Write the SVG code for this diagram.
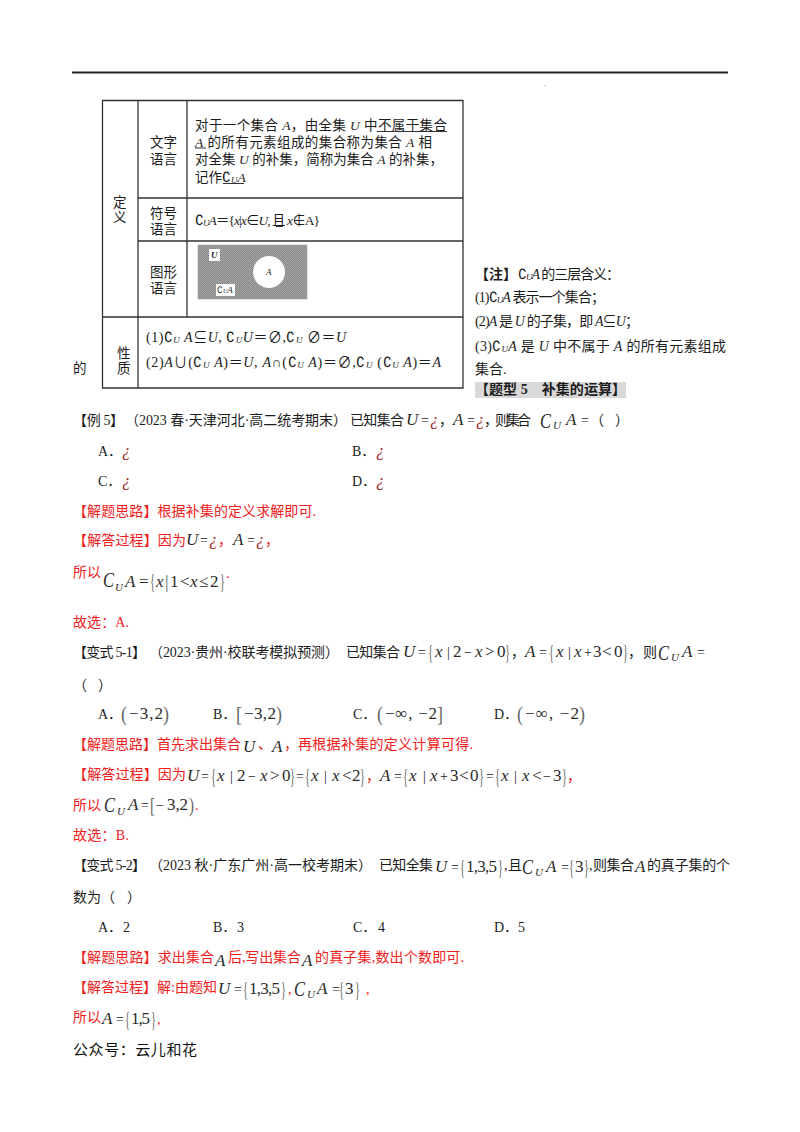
<svg xmlns="http://www.w3.org/2000/svg" width="800" height="1132" viewBox="0 0 800 1132">
<style>
text{font-family:"Liberation Serif","Noto Sans CJK SC",serif;font-size:14px;fill:#1c1c1c}
.r{fill:#f02020}
.i{font-style:italic}
.t{font-size:13.5px}
.m{font-size:17px;font-family:"Liberation Serif","DejaVu Serif",serif;fill:#2a2a2a}
.mi{font-size:17px;font-style:italic;fill:#2a2a2a}
.s{font-size:11px;font-style:italic;fill:#2a2a2a}
.c{font-size:22px;font-style:italic;fill:#2a2a2a}
.br{font-size:22px;fill:#666;font-weight:normal}
.q{fill:#a03030;font-size:17px;font-family:"Liberation Serif",serif;font-style:italic}
.g{stroke:#333;stroke-width:1.3;fill:none}
.u{stroke:#333;stroke-width:1;fill:none}
</style>
<defs>
<pattern id="h" width="2" height="2" patternUnits="userSpaceOnUse"><rect width="2" height="2" fill="#a8a8a8"/><path d="M0 2L2 0" stroke="#7c7c7c" stroke-width=".8"/></pattern>
</defs>
<rect width="800" height="1132" fill="#fff"/>
<path d="M72 72.500H728" stroke="#222" stroke-width="2"/>
<circle cx="545" cy="85.500" r=".5" fill="#888"/>

<g id="table">
<path class="g" d="M102.500 100.500H463V388H102.500ZM138 100.500V388M187 100.500V317M138 198H463M138 241H463M102.500 317H463"/>
<text class="t" x="113" y="207">定</text><text class="t" x="113" y="222">义</text>
<text class="t" x="150" y="147">文字</text><text class="t" x="150" y="164">语言</text>
<text class="t" x="150" y="218">符号</text><text class="t" x="150" y="234">语言</text>
<text class="t" x="150" y="277">图形</text><text class="t" x="150" y="293">语言</text>
<text class="t" x="117" y="358">性</text><text class="t" x="117" y="373">质</text>
<text class="t" x="73" y="373">的</text>

<text class="t" x="195" y="130" textLength="252">对于一个集合 <tspan class="i">A</tspan>，由全集 <tspan class="i">U</tspan> 中不属于集合</text>
<path class="u" d="M377 131.500H447M195 148H206"/>
<text class="t" x="195" y="147" textLength="237"><tspan class="i">A</tspan> 的所有元素组成的集合称为集合 <tspan class="i">A</tspan> 相</text>
<text class="t" x="195" y="164" textLength="248">对全集 <tspan class="i">U</tspan> 的补集，简称为集合 <tspan class="i">A</tspan> 的补集，</text>
<text class="t" x="195" y="182">记作</text><text class="t" x="222" y="182">∁<tspan class="i" font-size="9" dy="1">U</tspan><tspan class="i" dy="-1">A</tspan></text>
<path class="u" d="M223 183.500H244"/>
<text class="t" x="195" y="225" textLength="125">∁<tspan class="i" font-size="9" dy="1">U</tspan><tspan class="i" dy="-1">A</tspan>＝{<tspan class="i">x</tspan>|<tspan class="i">x</tspan>∈<tspan class="i">U</tspan>, 且 <tspan class="i">x</tspan>∉A}</text>
<path class="u" d="M276 226.500H283"/>

<rect x="198" y="245" width="109" height="54" fill="url(#h)" stroke="#999" stroke-width=".5"/>
<rect x="209" y="249" width="11" height="12" fill="#fff"/>
<text class="i" x="211" y="258" style="font-size:9px;font-weight:bold">U</text>
<circle cx="269" cy="272" r="16" fill="#fff"/>
<text class="i" x="266" y="275" style="font-size:9px">A</text>
<rect x="216" y="284" width="19" height="12" fill="#fff"/>
<text x="217" y="293" style="font-size:9px">∁<tspan class="i" style="font-size:6px">U</tspan><tspan class="i">A</tspan></text>

<text x="146" y="342" textLength="200">(1)∁<tspan class="i" font-size="9" dy="1">U</tspan><tspan class="i" dy="-1"> A</tspan>⊆<tspan class="i">U</tspan>, ∁<tspan class="i" font-size="9" dy="1">U</tspan><tspan class="i" dy="-1">U</tspan>＝∅,∁<tspan class="i" font-size="9" dy="1">U</tspan><tspan dy="-1"> ∅</tspan>＝<tspan class="i">U</tspan></text>
<text x="146" y="367" textLength="295">(2)<tspan class="i">A</tspan>∪(∁<tspan class="i" font-size="9" dy="1">U</tspan><tspan class="i" dy="-1"> A</tspan>)＝<tspan class="i">U</tspan>, <tspan class="i">A</tspan>∩(∁<tspan class="i" font-size="9" dy="1">U</tspan><tspan class="i" dy="-1"> A</tspan>)＝∅,∁<tspan class="i" font-size="9" dy="1">U</tspan><tspan dy="-1"> (∁</tspan><tspan class="i" font-size="9" dy="1">U</tspan><tspan class="i" dy="-1"> A</tspan>)＝<tspan class="i">A</tspan></text>
</g>

<g id="note">
<text x="475" y="279" font-weight="bold">【注】</text>
<text x="518" y="279" textLength="102">∁<tspan class="i" font-size="9" dy="1">U</tspan><tspan class="i" dy="-1">A</tspan> 的三层含义：</text>
<text x="475" y="302" textLength="130">(1)∁<tspan class="i" font-size="9" dy="1">U</tspan><tspan class="i" dy="-1">A</tspan> 表示一个集合；</text>
<text x="475" y="326" textLength="164">(2)<tspan class="i">A</tspan> 是 <tspan class="i">U</tspan> 的子集，即 <tspan class="i">A</tspan>⊆<tspan class="i">U</tspan>；</text>
<text x="475" y="351" textLength="251">(3)∁<tspan class="i" font-size="9" dy="1">U</tspan><tspan class="i" dy="-1">A</tspan> 是 <tspan class="i">U</tspan> 中不属于 <tspan class="i">A</tspan> 的所有元素组成</text>
<text x="475" y="374">集合.</text>
<rect x="475" y="382" width="151" height="16" fill="#d9d9d9"/>
<text x="475" y="394" textLength="151" font-weight="bold">【题型 5　补集的运算】</text>
</g>

<g id="example5">
<text x="73" y="425" textLength="51">【例 5】</text>
<text x="125" y="425" textLength="222">（2023 春·天津河北·高二统考期末）</text>
<text x="350" y="425" textLength="54">已知集合</text>
<text class="mi" x="406" y="425">U</text><text x="421" y="425">=</text><text class="q" x="430" y="425">¿</text><text x="439" y="425">，</text>
<text class="mi" x="453" y="425">A</text><text x="467" y="425">=</text><text class="q" x="476" y="425">¿</text><text x="484" y="425" textLength="47">，则集合</text>
<text class="c" x="540" y="428" textLength="11" lengthAdjust="spacingAndGlyphs">C</text><text class="s" x="553" y="429">U</text><text class="mi" x="566" y="425">A</text><text x="581" y="425">=</text><text x="590" y="425">（</text><text x="615" y="425">）</text>
<text x="98" y="456">A．</text><text class="q" x="122" y="456">¿</text>
<text x="352" y="456">B．</text><text class="q" x="376" y="456">¿</text>
<text x="98" y="486">C．</text><text class="q" x="122" y="486">¿</text>
<text x="352" y="486">D．</text><text class="q" x="376" y="486">¿</text>
<text class="r" x="73" y="516" textLength="243">【解题思路】根据补集的定义求解即可.</text>
<text class="r" x="73" y="545" textLength="113">【解答过程】因为</text>
<text class="mi" x="186" y="545">U</text><text x="200" y="545">=</text><text class="q" x="209" y="545">¿</text><text class="r" x="218" y="545">，</text>
<text class="mi" x="233" y="545">A</text><text x="247" y="545">=</text><text class="q" x="256" y="545">¿</text><text class="r" x="265" y="545">，</text>
<text class="r" x="73" y="577">所以</text>
<text class="c" x="103" y="587" textLength="11" lengthAdjust="spacingAndGlyphs">C</text><text class="s" x="115" y="591">U</text><text class="mi" x="125" y="587">A</text><text class="m" x="139" y="587">=</text>
<text class="br" x="150" y="588" textLength="5" lengthAdjust="spacingAndGlyphs">{</text><text class="mi" x="156" y="587">x</text><text class="br" x="165" y="588" style="font-size:18px">|</text><text class="m" x="170" y="587">1</text><text class="m" x="180" y="587">&lt;</text><text class="mi" x="190" y="587">x</text><text class="m" x="199" y="587">≤</text><text class="m" x="210" y="587">2</text><text class="br" x="220" y="588" textLength="5" lengthAdjust="spacingAndGlyphs">}</text><text class="r" x="226" y="578">.</text>
<text class="r" x="73" y="627" textLength="56">故选：A.</text>
</g>

<g id="variant51">
<text x="73" y="657" textLength="73">【变式 5-1】</text>
<text x="149" y="657" textLength="190">（2023·贵州·校联考模拟预测）</text>
<text x="346" y="657" textLength="54">已知集合</text>
<text class="mi" x="403" y="657">U</text><text x="418" y="657">=</text>
<text class="br" x="428" y="659" textLength="5" lengthAdjust="spacingAndGlyphs">{</text><text class="mi" x="435" y="657">x</text><text x="447" y="657">|</text><text class="m" x="453" y="657">2</text><text x="464" y="657">−</text><text class="mi" x="475" y="657">x</text><text class="m" x="485" y="657">&gt;</text><text class="m" x="497" y="657">0</text><text class="br" x="505" y="659" textLength="5" lengthAdjust="spacingAndGlyphs">}</text><text x="511" y="657">，</text>
<text class="mi" x="525" y="657">A</text><text x="539" y="657">=</text>
<text class="br" x="549" y="659" textLength="5" lengthAdjust="spacingAndGlyphs">{</text><text class="mi" x="556" y="657">x</text><text x="568" y="657">|</text><text class="mi" x="574" y="657">x</text><text x="584" y="657">+</text><text class="m" x="593" y="657">3</text><text class="m" x="602" y="657">&lt;</text><text class="m" x="614" y="657">0</text><text class="br" x="623" y="659" textLength="5" lengthAdjust="spacingAndGlyphs">}</text><text x="628" y="657">，</text>
<text x="643" y="657">则</text><text class="c" x="658" y="660" textLength="11" lengthAdjust="spacingAndGlyphs">C</text><text class="s" x="671" y="661">U</text><text class="mi" x="682" y="657">A</text><text x="697" y="657">=</text>
<text x="73" y="690">（</text><text x="98" y="690">）</text>

<text x="98" y="719">A．</text><text class="br" x="121" y="721" textLength="6" lengthAdjust="spacingAndGlyphs">(</text><text class="m" x="129" y="719" textLength="34">−3,2</text><text class="br" x="163" y="721" textLength="6" lengthAdjust="spacingAndGlyphs">)</text>
<text x="213" y="719">B．</text><text class="br" x="236" y="721" textLength="6" lengthAdjust="spacingAndGlyphs">[</text><text class="m" x="244" y="719" textLength="32">−3,2</text><text class="br" x="276" y="721" textLength="6" lengthAdjust="spacingAndGlyphs">)</text>
<text x="353" y="719">C．</text><text class="br" x="377" y="721" textLength="6" lengthAdjust="spacingAndGlyphs">(</text><text class="m" x="385" y="719" textLength="52">−∞, −2</text><text class="br" x="437" y="721" textLength="6" lengthAdjust="spacingAndGlyphs">]</text>
<text x="494" y="719">D．</text><text class="br" x="517" y="721" textLength="6" lengthAdjust="spacingAndGlyphs">(</text><text class="m" x="525" y="719" textLength="54">−∞, −2</text><text class="br" x="579" y="721" textLength="6" lengthAdjust="spacingAndGlyphs">)</text>

<text class="r" x="73" y="749" textLength="168">【解题思路】首先求出集合</text>
<text class="mi" x="243" y="752">U</text><text class="r" x="258" y="749">、</text><text class="mi" x="272" y="752">A</text><text class="r" x="284" y="749">，</text>
<text class="r" x="298" y="749" textLength="175">再根据补集的定义计算可得.</text>

<text class="r" x="73" y="779" textLength="113">【解答过程】因为</text>
<text class="mi" x="187" y="781">U</text><text x="201" y="781">=</text>
<text class="br" x="211" y="783" textLength="5" lengthAdjust="spacingAndGlyphs">{</text><text class="mi" x="217" y="781">x</text><text x="230" y="781">|</text><text class="m" x="237" y="781">2</text><text x="248" y="781">−</text><text class="mi" x="260" y="781">x</text><text class="m" x="270" y="781">&gt;</text><text class="m" x="282" y="781">0</text><text class="br" x="290" y="783" textLength="5" lengthAdjust="spacingAndGlyphs">}</text><text x="296" y="781">=</text>
<text class="br" x="305" y="783" textLength="5" lengthAdjust="spacingAndGlyphs">{</text><text class="mi" x="311" y="781">x</text><text x="324" y="781">|</text><text class="mi" x="332" y="781">x</text><text class="m" x="342" y="781">&lt;</text><text class="m" x="352" y="781">2</text><text class="br" x="360" y="783" textLength="5" lengthAdjust="spacingAndGlyphs">}</text><text class="r" x="366" y="781">，</text>
<text class="mi" x="380" y="781">A</text><text x="394" y="781">=</text>
<text class="br" x="403" y="783" textLength="5" lengthAdjust="spacingAndGlyphs">{</text><text class="mi" x="409" y="781">x</text><text x="423" y="781">|</text><text class="mi" x="430" y="781">x</text><text x="440" y="781">+</text><text class="m" x="450" y="781">3</text><text class="m" x="459" y="781">&lt;</text><text class="m" x="470" y="781">0</text><text class="br" x="479" y="783" textLength="5" lengthAdjust="spacingAndGlyphs">}</text><text x="486" y="781">=</text>
<text class="br" x="495" y="783" textLength="5" lengthAdjust="spacingAndGlyphs">{</text><text class="mi" x="501" y="781">x</text><text x="514" y="781">|</text><text class="mi" x="522" y="781">x</text><text class="m" x="532" y="781">&lt;</text><text x="543" y="781">−</text><text class="m" x="553" y="781">3</text><text class="br" x="562" y="783" textLength="5" lengthAdjust="spacingAndGlyphs">}</text><text class="r" x="567" y="781">，</text>

<text class="r" x="73" y="810">所以</text>
<text class="c" x="104" y="812" textLength="11" lengthAdjust="spacingAndGlyphs">C</text><text class="s" x="117" y="815">U</text><text class="mi" x="128" y="810">A</text><text x="141" y="810">=</text>
<text class="br" x="150" y="812" textLength="5" lengthAdjust="spacingAndGlyphs">[</text><text x="156" y="810">−</text><text class="m" x="167" y="810" textLength="21">3,2</text><text class="br" x="189" y="812" textLength="5" lengthAdjust="spacingAndGlyphs">)</text><text class="r" x="195" y="810">.</text>
<text class="r" x="73" y="840" textLength="56">故选：B.</text>
</g>

<g id="variant52">
<text x="73" y="870" textLength="73">【变式 5-2】</text>
<text x="149" y="870" textLength="223">（2023 秋·广东广州·高一校考期末）</text>
<text x="379" y="870" textLength="54">已知全集</text>
<text class="mi" x="435" y="872">U</text><text x="451" y="872">=</text><text class="br" x="460" y="874" textLength="5" lengthAdjust="spacingAndGlyphs">{</text><text class="m" x="466" y="872" textLength="31">1,3,5</text><text class="br" x="498" y="874" textLength="5" lengthAdjust="spacingAndGlyphs">}</text><text x="504" y="870">,</text><text x="508" y="870">且</text>
<text class="c" x="522" y="874" textLength="11" lengthAdjust="spacingAndGlyphs">C</text><text class="s" x="535" y="876">U</text><text class="mi" x="546" y="872">A</text><text x="561" y="872">=</text><text class="br" x="569" y="874" textLength="5" lengthAdjust="spacingAndGlyphs">{</text><text class="m" x="575" y="872">3</text><text class="br" x="584" y="874" textLength="5" lengthAdjust="spacingAndGlyphs">}</text><text x="589" y="870">,</text>
<text x="593" y="870" textLength="41">则集合</text><text class="mi" x="635" y="872">A</text><text x="647" y="870" textLength="83">的真子集的个</text>
<text x="73" y="902">数为</text><text x="101" y="902">（</text><text x="127" y="902">）</text>
<text x="98" y="932">A．</text><text x="123" y="932">2</text>
<text x="213" y="932">B．</text><text x="237" y="932">3</text>
<text x="353" y="932">C．</text><text x="378" y="932">4</text>
<text x="494" y="932">D．</text><text x="518" y="932">5</text>

<text class="r" x="73" y="962" textLength="141">【解题思路】求出集合</text>
<text class="mi" x="215" y="966">A</text><text class="r" x="228" y="962" textLength="73">后,写出集合</text><text class="mi" x="302" y="966">A</text>
<text class="r" x="315" y="962" textLength="149">的真子集,数出个数即可.</text>

<text class="r" x="73" y="992" textLength="144">【解答过程】解:由题知</text>
<text class="mi" x="218" y="994">U</text><text x="234" y="994">=</text><text class="br" x="243" y="996" textLength="5" lengthAdjust="spacingAndGlyphs">{</text><text class="m" x="249" y="994" textLength="31">1,3,5</text><text class="br" x="281" y="996" textLength="5" lengthAdjust="spacingAndGlyphs">}</text><text class="r" x="288" y="994">,</text>
<text class="c" x="294" y="996" textLength="11" lengthAdjust="spacingAndGlyphs">C</text><text class="s" x="307" y="998">U</text><text class="mi" x="317" y="994">A</text><text x="332" y="994">=</text><text class="br" x="339" y="996" textLength="5" lengthAdjust="spacingAndGlyphs">{</text><text class="m" x="345" y="994">3</text><text class="br" x="355" y="996" textLength="5" lengthAdjust="spacingAndGlyphs">}</text><text class="r" x="366" y="994">,</text>

<text class="r" x="73" y="1022">所以</text>
<text class="mi" x="102" y="1024">A</text><text x="116" y="1024">=</text><text class="br" x="125" y="1026" textLength="5" lengthAdjust="spacingAndGlyphs">{</text><text class="m" x="131" y="1024" textLength="19">1,5</text><text class="br" x="151" y="1026" textLength="5" lengthAdjust="spacingAndGlyphs">}</text><text class="r" x="157" y="1024">,</text>
</g>

<g id="footer">
<text x="73" y="1055" textLength="124" style="font-family:'Noto Sans CJK SC',sans-serif;font-size:15px;fill:#111">公众号：云儿和花</text>
</g>
</svg>
